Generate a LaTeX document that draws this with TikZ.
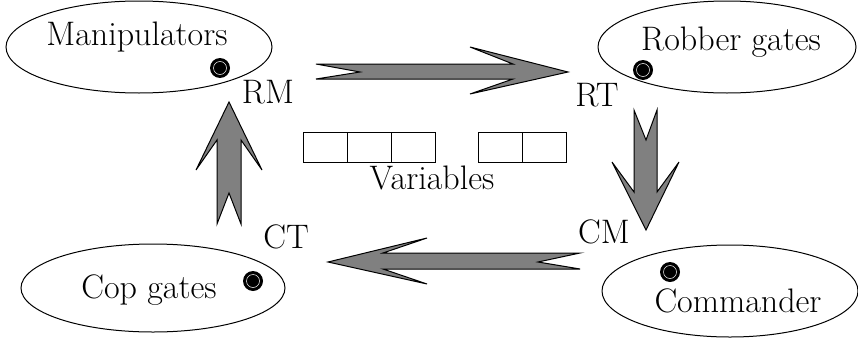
\documentclass[tikz,border=0pt]{standalone}
\usetikzlibrary{shapes.geometric}
\begin{document}
\begin{tikzpicture}[x=1pt,y=-1pt,
  region/.style={draw,line width=1pt,ellipse,inner sep=0pt},
  lbl/.style={anchor=base,inner sep=0pt,font=\fontsize{34}{40}\selectfont},
  fatarrow/.style={draw,line width=1pt,fill=black!50,line join=miter},
  varbox/.style={draw,line width=1pt,minimum width=44pt,minimum height=30pt,inner sep=0pt},
  gate/.style={circle,fill=black,minimum size=20pt,inner sep=0pt,
    path picture={\draw[white,line width=0.5pt] (path picture bounding box.center) circle[radius=6.5pt];}}]
\useasboundingbox (0,0) rectangle (858,340);
% regions
\node[region,minimum width=266pt,minimum height=92pt] (manE) at (139,47) {};
\node[region,minimum width=258pt,minimum height=92pt] (robE) at (727,47) {};
\node[region,minimum width=264pt,minimum height=88pt] (copE) at (153,288) {};
\node[region,minimum width=256pt,minimum height=92pt] (comE) at (730,291) {};
\node[lbl] (manT) at (137,45) {Manipulators};
\node[lbl] (robT) at (731,50) {Robber gates};
\node[lbl] (copT) at (149,298) {Cop gates};
\node[lbl] (comT) at (738,312) {Commander};
% gate dots
\node[gate] (manD) at (220,68) {};
\node[gate] (robD) at (643,70) {};
\node[gate] (copD) at (253,281) {};
\node[gate] (comD) at (670,272) {};
% corner labels
\node[lbl] (RM) at (268,103) {RM};
\node[lbl] (RT) at (597,106) {RT};
\node[lbl] (CM) at (604,243) {CM};
\node[lbl] (CT) at (286,248) {CT};
% fat arrows
\draw[fatarrow] (316,64) -- (513,64) -- (470,47) -- (568,72) -- (470,94) -- (513,79) -- (316,79) -- (360,72) -- cycle;
\draw[fatarrow] (634,110) -- (634,192) -- (612,162) -- (646,230) -- (679,162) -- (657,192) -- (657,110) -- (646,140) -- cycle;
\draw[fatarrow] (580,253) -- (383,253) -- (427,238) -- (328,262) -- (427,284) -- (383,269) -- (580,269) -- (538,262) -- cycle;
\draw[fatarrow] (217,224) -- (217,140) -- (196,170) -- (229,102) -- (262,170) -- (241,140) -- (241,224) -- (229,193) -- cycle;
% variables
\node[varbox] (v1) at (325,147) {};
\node[varbox] (v2) at (369,147) {};
\node[varbox] (v3) at (413,147) {};
\node[varbox] (v4) at (500,147) {};
\node[varbox] (v5) at (544,147) {};
\node[lbl] (varT) at (432,189) {Variables};
\end{tikzpicture}
\end{document}
